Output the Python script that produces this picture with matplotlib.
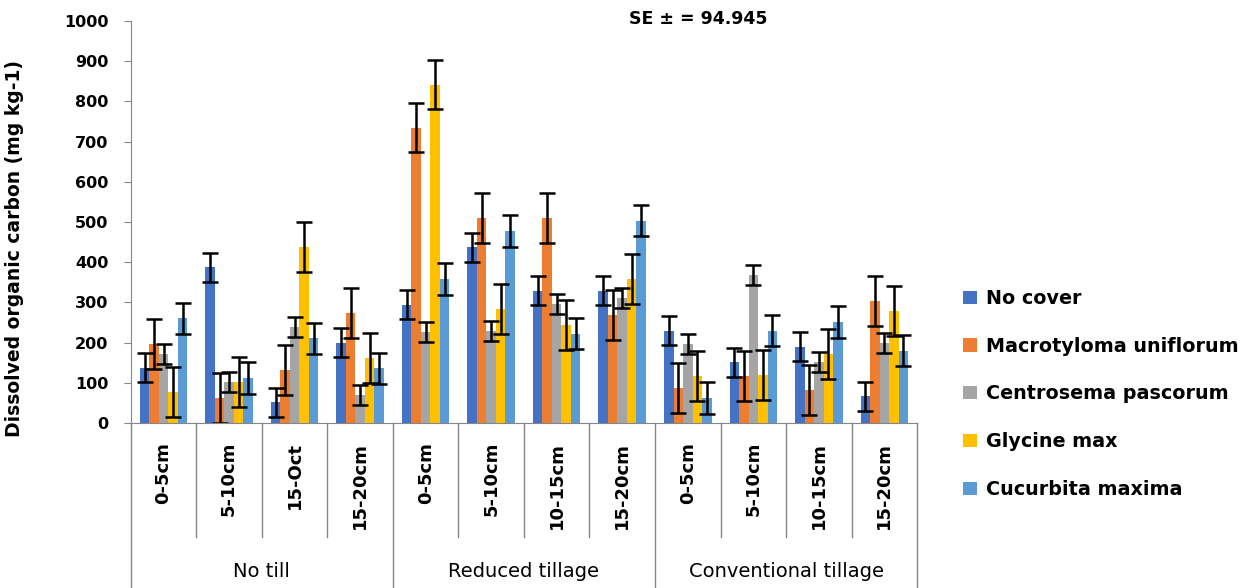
# Dissolved organic carbon by tillage, depth and cover crop
import matplotlib.pyplot as plt
import numpy as np

plt.rcParams['font.family'] = ['DejaVu Sans']

# ---- data ----
depths = ['0-5cm', '5-10cm', '15-Oct', '15-20cm',
          '0-5cm', '5-10cm', '10-15cm', '15-20cm',
          '0-5cm', '5-10cm', '10-15cm', '15-20cm']
tillage = ['No till', 'Reduced tillage', 'Conventional tillage']
covers = ['No cover', 'Macrotyloma uniflorum', 'Centrosema pascorum',
          'Glycine max', 'Cucurbita maxima']

no_cover    = [137, 388, 52, 200, 294, 437, 329, 329, 230, 151, 190, 66]
macrotyloma = [196, 62, 131, 274, 735, 511, 511, 269, 87, 117, 82, 304]
centrosema  = [172, 102, 239, 70, 226, 230, 295, 310, 196, 368, 151, 200]
glycine     = [78, 102, 438, 161, 842, 284, 244, 358, 117, 120, 171, 278]
cucurbita   = [260, 112, 211, 136, 358, 478, 222, 503, 62, 230, 251, 180]

# standard errors per series
err = [36, 62, 25, 62, 39]

colors = ['#4472C4', '#ED7D31', '#A5A5A5', '#FFC000', '#5B9BD5']

# ---- plot ----
fig = plt.figure(figsize=(12.58, 5.88), dpi=100)
ax = fig.add_axes([0.104, 0.2806, 0.625, 0.6836])

x = np.arange(len(depths))
w = 0.145
series = [no_cover, macrotyloma, centrosema, glycine, cucurbita]
for i, vals in enumerate(series):
    ax.bar(x + (i - 2) * w, vals, w, color=colors[i], label=covers[i],
           yerr=err[i], capsize=5.5,
           error_kw=dict(ecolor='black', elinewidth=1.8, capthick=1.8))

ax.set_xlim(-0.5, len(depths) - 0.5)
ax.set_ylim(0, 1000)
ax.set_yticks(np.arange(0, 1001, 100))
ax.tick_params(axis='y', labelsize=11.5, length=5, color='#868686', pad=11)
for t in ax.get_yticklabels():
    t.set_fontweight('bold')
ax.set_xticks([])

for s in ['top', 'right']:
    ax.spines[s].set_visible(False)
ax.spines['left'].set_color('#868686')
ax.spines['bottom'].set_color('#868686')

ax.set_ylabel('Dissolved organic carbon (mg kg-1)', fontsize=13.5, fontweight='bold')
ax.yaxis.set_label_coords(-0.136, 0.435)

# ---- two level category axis ----
tr = ax.get_xaxis_transform()
for k in range(len(depths) + 1):
    xb = k - 0.5
    low = -0.41 if k % 4 == 0 else -0.284
    ax.plot([xb, xb], [0, low], color='#868686', lw=1, transform=tr, clip_on=False)
for k, d in enumerate(depths):
    ax.text(k, -0.047, d, rotation=90, ha='center', va='top', fontsize=13,
            fontweight='bold', transform=tr)
for g, name in enumerate(tillage):
    ax.text(g * 4 + 1.5, -0.37, name, ha='center', va='center', fontsize=14,
            transform=tr)

ax.text(0.722, 1.005, 'SE \u00b1 = 94.945', ha='center', va='center', fontsize=12.5,
        fontweight='bold', transform=ax.transAxes)

# legend
leg = fig.legend(loc='center left', bbox_to_anchor=(0.752, 0.33), frameon=False,
                 prop=dict(size=13.8, weight='bold'), handlelength=0.7,
                 handleheight=0.7, handletextpad=0.5, labelspacing=1.5)

fig.savefig('out.png', dpi=100)
